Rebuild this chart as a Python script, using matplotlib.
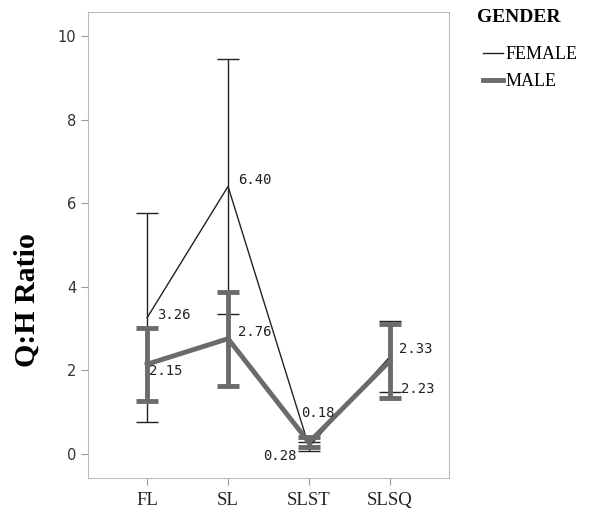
import matplotlib
matplotlib.use("Agg")
import matplotlib.pyplot as plt
from matplotlib.lines import Line2D

# datos
categories = ["FL", "SL", "SLST", "SLSQ"]
female_mean = [3.26, 6.40, 0.18, 2.33]
female_err = [2.50, 3.05, 0.10, 0.85]
male_mean = [2.15, 2.76, 0.28, 2.23]
male_err = [0.87, 1.12, 0.12, 0.88]
female_labels = ["3.26", "6.40", "0.18", "2.33"]
male_labels = ["2.15", "2.76", "0.28", "2.23"]

fig = plt.figure(figsize=(5.9, 5.12), dpi=100)
ax = fig.add_axes([88 / 590, 1 - 478 / 512, (449 - 88) / 590, (478 - 12) / 512])

x = list(range(len(categories)))
gray = "#6b6b6b"

ax.errorbar(x, female_mean, yerr=female_err, color="#222222", lw=1.0, elinewidth=1.0,
            capsize=8, capthick=1.0, zorder=3)
ax.errorbar(x, male_mean, yerr=male_err, color=gray, lw=3.5, elinewidth=3.5,
            capsize=8, capthick=3.5, zorder=4)

# etiquetas de valores (desplazamientos en píxeles)
f_off = [(10, 3), (10, 6), (-8, 34), (9, 8)]
m_off = [(2, -7), (10, 7), (-46, -14), (11, -28)]
mono = "DejaVu Sans Mono"
for i in x:
    ax.annotate(female_labels[i], (x[i], female_mean[i]), xytext=f_off[i],
                textcoords="offset pixels", fontsize=10, family=mono,
                color="#222222", va="center", ha="left", zorder=6)
    ax.annotate(male_labels[i], (x[i], male_mean[i]), xytext=m_off[i],
                textcoords="offset pixels", fontsize=10, family=mono,
                color="#222222", va="center", ha="left", zorder=6)

ax.set_xlim(-0.73, 3.73)
ax.set_ylim(-0.57, 10.57)
ax.set_xticks(x)
ax.set_xticklabels(categories, family="Liberation Serif", fontsize=13.5)
ax.set_yticks([0, 2, 4, 6, 8, 10])
ax.tick_params(axis="y", labelsize=10.5, colors="#999999", labelcolor="#333333", length=5)
ax.tick_params(axis="x", colors="#999999", labelcolor="#222222", length=5, pad=5)
for s in ax.spines.values():
    s.set_color("#bbbbbb")

ax.set_ylabel("Q:H Ratio", family="Liberation Serif", fontweight="bold", fontsize=21.5)
ax.yaxis.set_label_coords(-0.13, 0.382)

# leyenda manual
handles = [Line2D([], [], color="#222222", lw=1.0),
           Line2D([], [], color=gray, lw=3.5)]
fig.text(477 / 590, 1 - 18 / 512, "GENDER", family="Liberation Serif",
         fontweight="bold", fontsize=14, va="center", ha="left")
fig.legend(handles, ["FEMALE", "MALE"], loc="upper left",
           bbox_to_anchor=(467 / 590, 1 - 30 / 512), frameon=False,
           prop={"family": "Liberation Serif", "size": 13},
           handlelength=1.1, handletextpad=0.15, labelspacing=0.55)

fig.savefig("out.png", dpi=100)
